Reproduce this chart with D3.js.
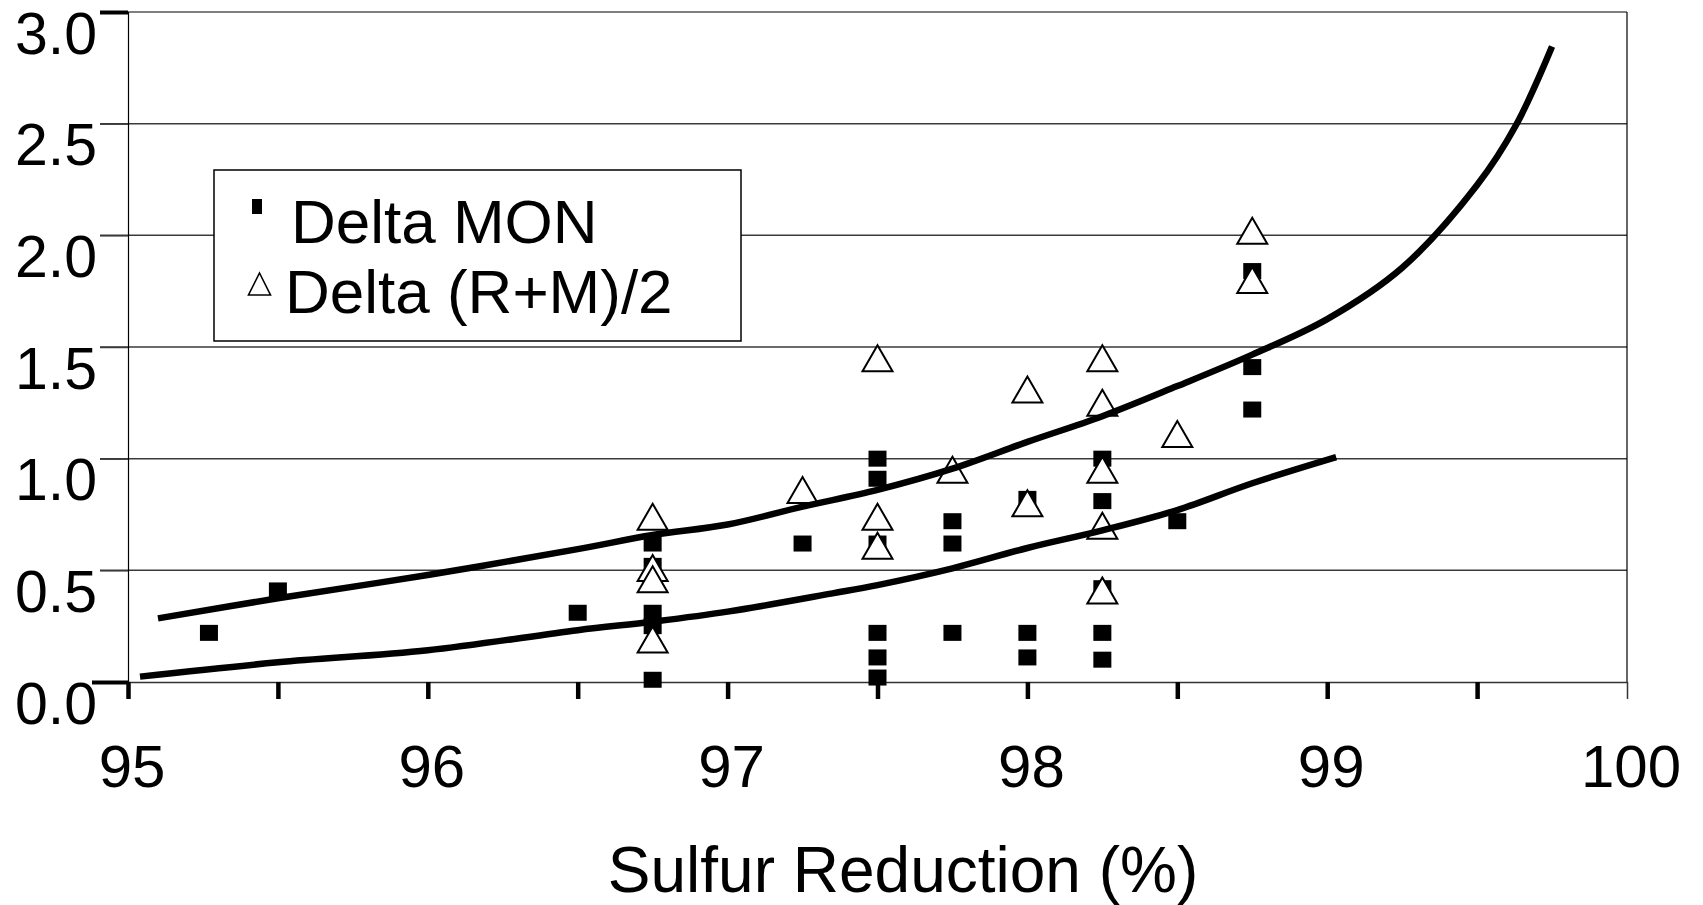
<!DOCTYPE html>
<html>
<head>
<meta charset="utf-8">
<script src="https://cdn.jsdelivr.net/npm/d3@7"></script>
<style>
  html, body { margin: 0; padding: 0; background: #ffffff; }
  svg { display: block; }
  text { font-family: "Liberation Sans", Arial, sans-serif; }
</style>
</head>
<body>
<svg id="chart" width="1703" height="905"></svg>
<script>
// ---------------- data ----------------
const monX = [95.27, 95.5, 96.5,
  96.75, 96.75, 96.75, 96.75, 96.75,
  97.25,
  97.5, 97.5, 97.5, 97.5, 97.5, 97.5,
  97.75, 97.75, 97.75,
  98.0, 98.0, 98.0,
  98.25, 98.25, 98.25, 98.25, 98.25,
  98.5,
  98.75, 98.75, 98.75];
const monY = [0.22, 0.41, 0.31,
  0.62, 0.52, 0.31, 0.25, 0.01,
  0.62,
  1.0, 0.91, 0.62, 0.22, 0.11, 0.02,
  0.72, 0.62, 0.22,
  0.82, 0.22, 0.11,
  1.0, 0.81, 0.42, 0.22, 0.10,
  0.72,
  1.84, 1.41, 1.22];

const rmX = [96.75, 96.75, 96.75, 96.75,
  97.25,
  97.5, 97.5, 97.5,
  97.75,
  98.0, 98.0,
  98.25, 98.25, 98.25, 98.25, 98.25,
  98.5,
  98.75, 98.75];
const rmY = [0.74, 0.51, 0.46, 0.19,
  0.86,
  1.45, 0.74, 0.61,
  0.95,
  1.31, 0.80,
  1.45, 1.25, 0.95, 0.70, 0.41,
  1.11,
  2.02, 1.80];

// trend curves
const upperX = [95.1, 95.5, 96.0, 96.5, 96.75, 97.0, 97.25, 97.5, 97.75, 98.0, 98.25, 98.5, 98.75, 99.0, 99.25, 99.5, 99.63, 99.75];
const upperY = [0.285, 0.375, 0.479, 0.595, 0.658, 0.705, 0.785, 0.86, 0.955, 1.075, 1.19, 1.325, 1.466, 1.625, 1.855, 2.225, 2.494, 2.845];
const lowerX = [95.04, 95.5, 96.0, 96.5, 96.75, 97.0, 97.35, 97.5, 97.75, 98.0, 98.25, 98.5, 98.75, 99.03];
const lowerY = [0.024, 0.088, 0.142, 0.232, 0.27, 0.315, 0.397, 0.434, 0.509, 0.60, 0.679, 0.77, 0.89, 1.007];

const yTicks = [0, 0.5, 1.0, 1.5, 2.0, 2.5, 3.0];
const xMinorTicks = [95, 95.5, 96, 96.5, 97, 97.5, 98, 98.5, 99, 99.5];
const xLabels = [95, 96, 97, 98, 99, 100];
const legendNames = ["Delta MON", "Delta (R+M)/2"];
const xTitle = "Sulfur Reduction (%)";

// ---------------- chart ----------------
const svg = d3.select("#chart");
const x = d3.scaleLinear().domain([95, 100]).range([128, 1627]);
const y = d3.scaleLinear().domain([0, 3]).range([682, 12]);

// gridlines
svg.append("g").selectAll("line").data(yTicks.filter(v => v > 0 && v < 3)).join("line")
  .attr("x1", 100).attr("x2", x(100))
  .attr("y1", d => y(d)).attr("y2", d => y(d))
  .attr("stroke", "#3a3a3a").attr("stroke-width", 1.5);

// frame: top and right
svg.append("line").attr("x1", x(95)).attr("x2", x(100)).attr("y1", y(3)).attr("y2", y(3))
  .attr("stroke", "#000").attr("stroke-width", 1.2);
svg.append("line").attr("x1", x(100)).attr("x2", x(100)).attr("y1", y(3)).attr("y2", y(0))
  .attr("stroke", "#000").attr("stroke-width", 1.2);

// y axis
const yAxis = d3.axisLeft(y).tickValues(yTicks).tickSize(28).tickPadding(3)
  .tickFormat(d3.format(".1f"));
const gy = svg.append("g").attr("transform", `translate(${x(95)},0)`).call(yAxis);
gy.select(".domain").attr("stroke", "#000").attr("stroke-width", 1.2);
gy.selectAll(".tick line")
  .attr("stroke", d => (d === 0 || d === 3) ? "#000" : "#3a3a3a")
  .attr("stroke-width", d => (d === 0 || d === 3) ? 4 : 1.5)
  .attr("x2", d => d === 0 ? -36 : -28);
gy.selectAll(".tick text")
  .attr("font-size", 59).attr("fill", "#000")
  .attr("font-family", "'Liberation Sans', Arial, sans-serif")
  .attr("dy", "0.7em");

// x axis
const xAxis = d3.axisBottom(x).tickValues(xMinorTicks).tickSize(17).tickFormat("");
const gx = svg.append("g").attr("transform", `translate(0,${y(0)})`).call(xAxis);
gx.select(".domain").attr("stroke", "#333").attr("stroke-width", 1.5);
gx.selectAll(".tick line").attr("stroke", "#000").attr("stroke-width", 4.5);

svg.append("g").selectAll("text").data(xLabels).join("text")
  .attr("x", d => x(d) + 4).attr("y", 787)
  .attr("text-anchor", "middle").attr("font-size", 60).attr("fill", "#000")
  .text(d => d);

svg.append("text").attr("x", 903).attr("y", 892)
  .attr("text-anchor", "middle").attr("font-size", 64).attr("fill", "#000")
  .text(xTitle);

// markers
const sqW = 18, sqH = 16;
svg.append("g").selectAll("rect").data(monX.map((d, i) => [d, monY[i]])).join("rect")
  .attr("x", d => x(d[0]) - sqW / 2).attr("y", d => y(d[1]) - sqH / 2)
  .attr("width", sqW).attr("height", sqH).attr("fill", "#000");

const triW = 30, triH = 26;
const tri = (cx, cy, w, h) => `M${cx},${cy - h / 2}L${cx + w / 2},${cy + h / 2}L${cx - w / 2},${cy + h / 2}Z`;
svg.append("g").selectAll("path").data(rmX.map((d, i) => [d, rmY[i]])).join("path")
  .attr("d", d => tri(x(d[0]), y(d[1]), triW, triH))
  .attr("fill", "#fff").attr("stroke", "#000").attr("stroke-width", 2);

// trend curves
const line = d3.line().x(d => x(d[0])).y(d => y(d[1])).curve(d3.curveCatmullRom.alpha(0.5));
svg.append("path").datum(upperX.map((d, i) => [d, upperY[i]]))
  .attr("d", line).attr("fill", "none").attr("stroke", "#000").attr("stroke-width", 6.5);
svg.append("path").datum(lowerX.map((d, i) => [d, lowerY[i]]))
  .attr("d", line).attr("fill", "none").attr("stroke", "#000").attr("stroke-width", 6.5);

// legend
const lg = svg.append("g");
lg.append("rect").attr("x", 214).attr("y", 170).attr("width", 527).attr("height", 171)
  .attr("fill", "#fff").attr("stroke", "#000").attr("stroke-width", 1.5);
lg.append("rect").attr("x", 252).attr("y", 199).attr("width", 10).attr("height", 15).attr("fill", "#000");
lg.append("path").attr("d", tri(259.5, 284, 22, 22))
  .attr("fill", "#fff").attr("stroke", "#000").attr("stroke-width", 1.6);
lg.selectAll("text.lt").data(legendNames).join("text").attr("class", "lt")
  .attr("x", (d, i) => i === 0 ? 291 : 285).attr("y", (d, i) => i === 0 ? 243 : 313)
  .attr("font-size", 62).attr("fill", "#000").text(d => d);
</script>
</body>
</html>
